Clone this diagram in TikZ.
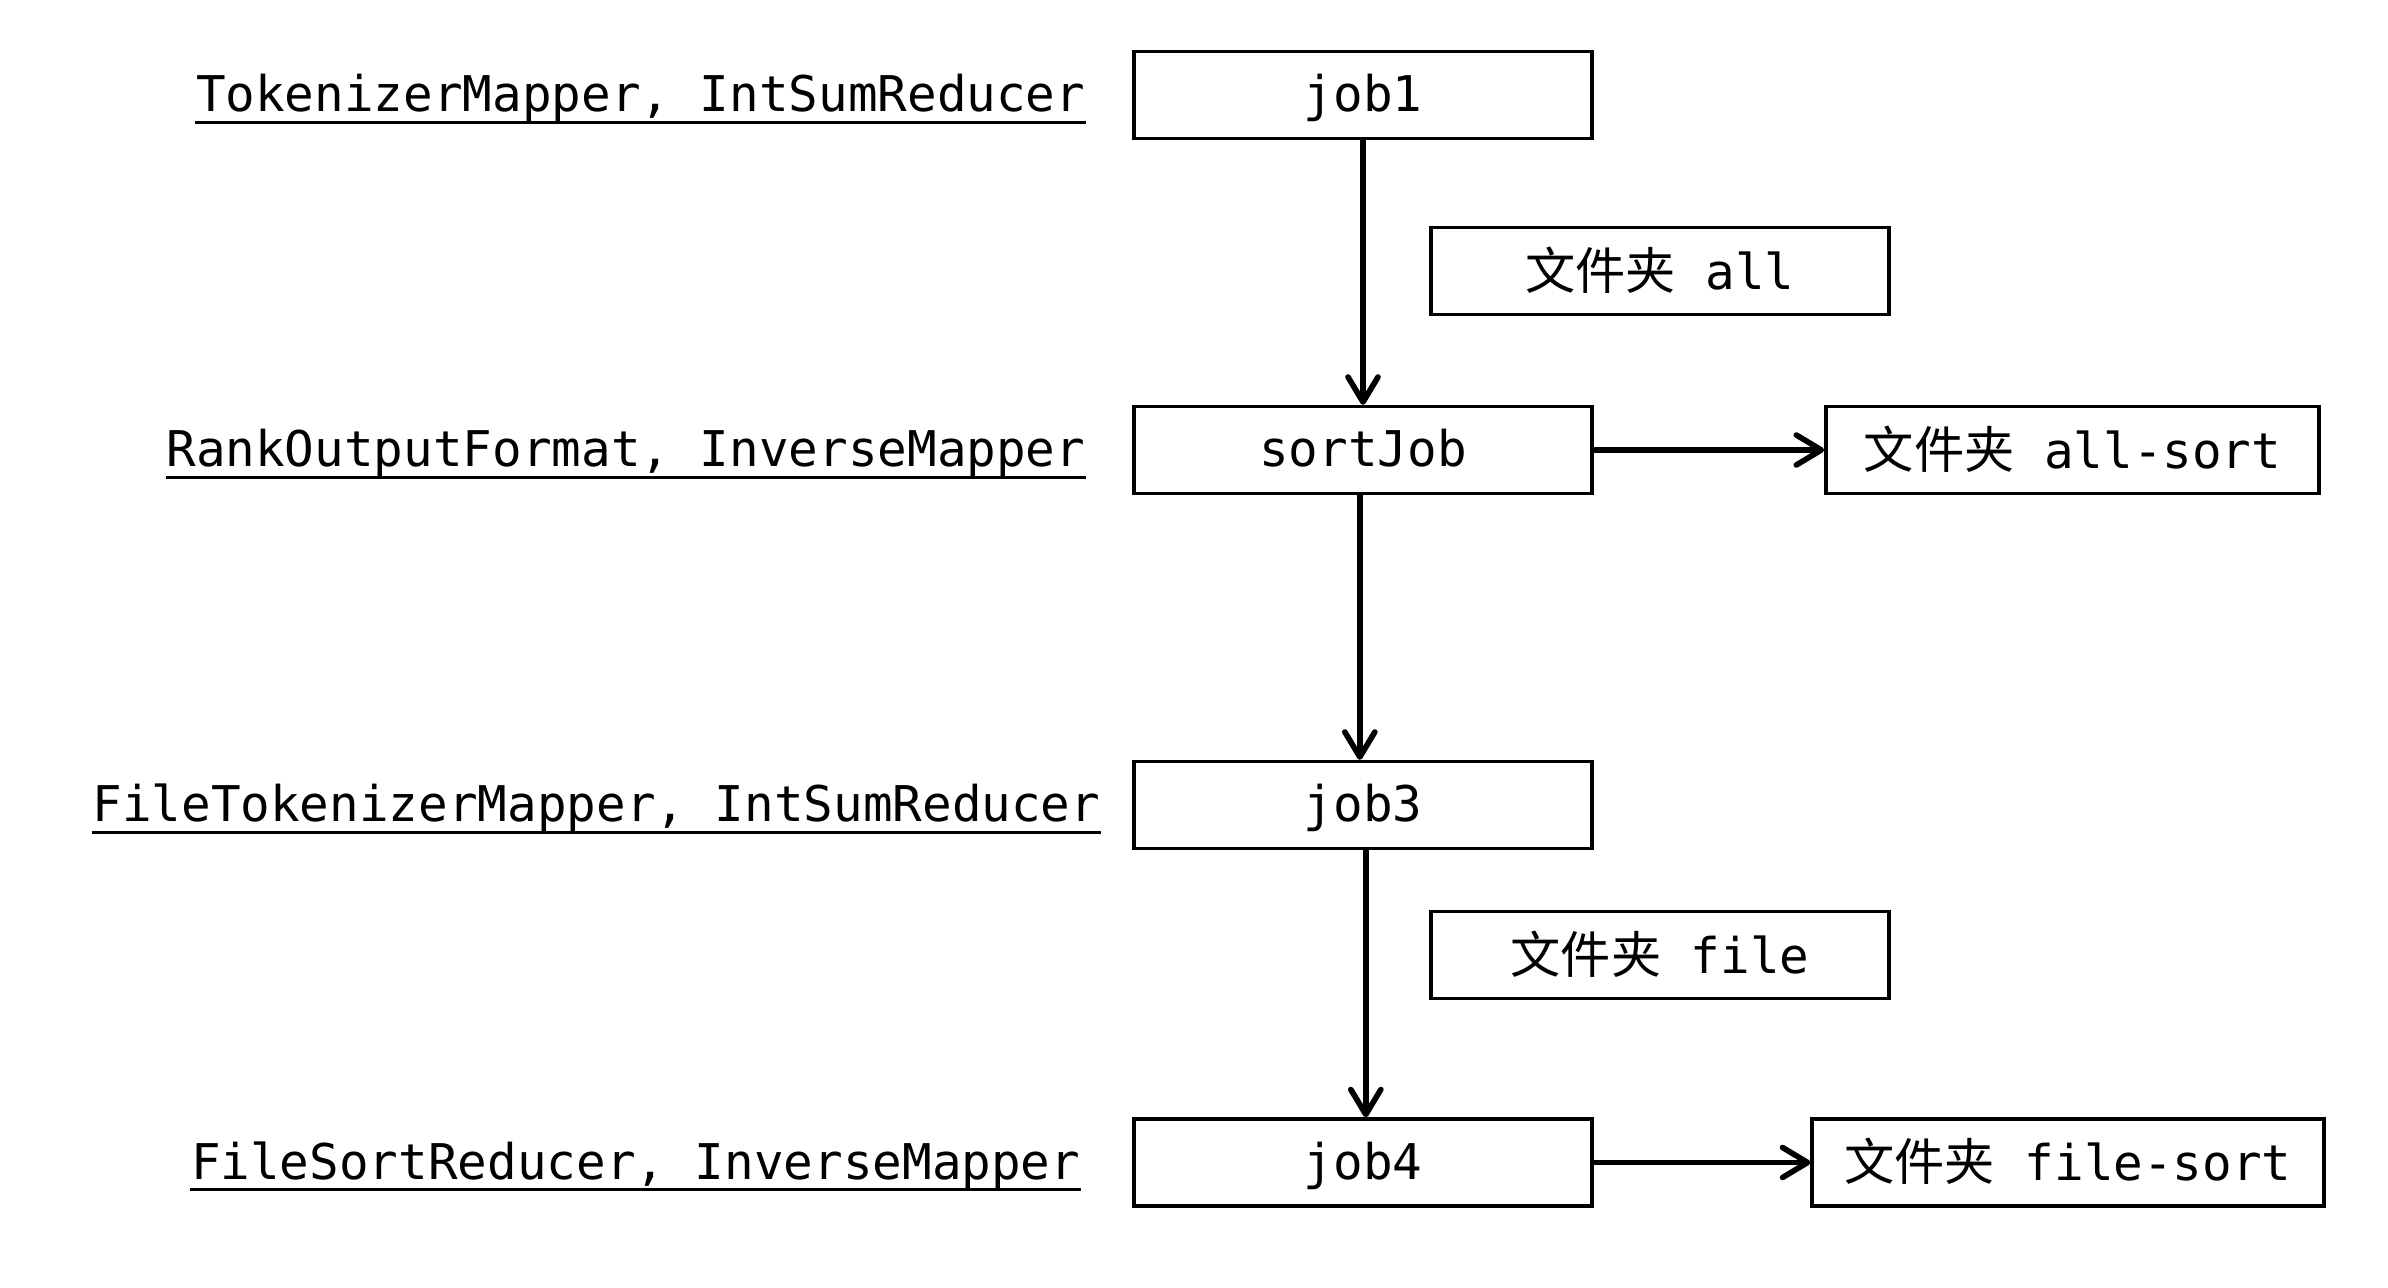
\documentclass[tikz,border=0pt]{standalone}
\usepackage{fontspec}
\setmonofont{DejaVu Sans Mono}
\newfontfamily\cjk[Scale=1.02]{Noto Sans CJK SC}
\usetikzlibrary{arrows.meta}

\begin{document}
\begin{tikzpicture}[x=0.01cm,y=-0.01cm,
  font=\ttfamily\fontsize{14pt}{17pt}\selectfont,
  jobbox/.style={draw,line width=1pt,minimum width=4.58cm,minimum height=0.868cm,
    inner sep=0pt,text height=12.3pt,text depth=2.85pt},
  folder/.style={draw,line width=1pt,minimum height=0.868cm,inner sep=0pt,
    text height=12.8pt,text depth=2.5pt},
  lbl/.style={anchor=east,inner sep=0pt,text height=12.3pt,text depth=2.85pt},
  flow/.style={line width=1.6pt,-{Straight Barb[length=0.25cm,width=0.3cm,round]}}]
\useasboundingbox (0,0) rectangle (2388,1288);
% Jobs of the chain, one under the other
\node[jobbox] (job1) at (1363,95) {job1};
\node[jobbox] (sortJob) at (1363,450) {sortJob};
\node[jobbox] (job3) at (1363,805) {job3};
\node[jobbox] (job4) at (1363,1162.5) {job4};
% Folders written by the jobs
\node[folder,minimum width=4.58cm] (all) at (1660,271) {{\cjk 文件夹} all};
\node[folder,minimum width=4.93cm] (allsort) at (2072.5,450) {{\cjk 文件夹} all-sort};
\node[folder,minimum width=4.58cm] (file) at (1660,955) {{\cjk 文件夹} file};
\node[folder,minimum width=5.115cm] (filesort) at (2068,1162.5) {{\cjk 文件夹} file-sort};
% Classes used by each job
\node[lbl] (lab1) at (1086,95) {TokenizerMapper, IntSumReducer};
\node[lbl] (lab2) at (1086,450) {RankOutputFormat, InverseMapper};
\node[lbl] (lab3) at (1101,805) {FileTokenizerMapper, IntSumReducer};
\node[lbl] (lab4) at (1081,1162.5) {FileSortReducer, InverseMapper};
\foreach \l in {lab1,lab2,lab3,lab4}
  \draw[line width=0.9pt] (\l.south west) -- (\l.south east);
% Arrows down the chain and out to the sorted folders
\draw[flow] (job1.south) -- (sortJob.north);
\draw[flow] ([xshift=-0.9pt]sortJob.south) -- ([xshift=-0.9pt]job3.north);
\draw[flow] ([xshift=0.8pt]job3.south) -- ([xshift=0.8pt]job4.north);
\draw[flow] (sortJob.east) -- (allsort.west);
\draw[flow] (job4.east) -- (filesort.west);
\end{tikzpicture}
\end{document}
